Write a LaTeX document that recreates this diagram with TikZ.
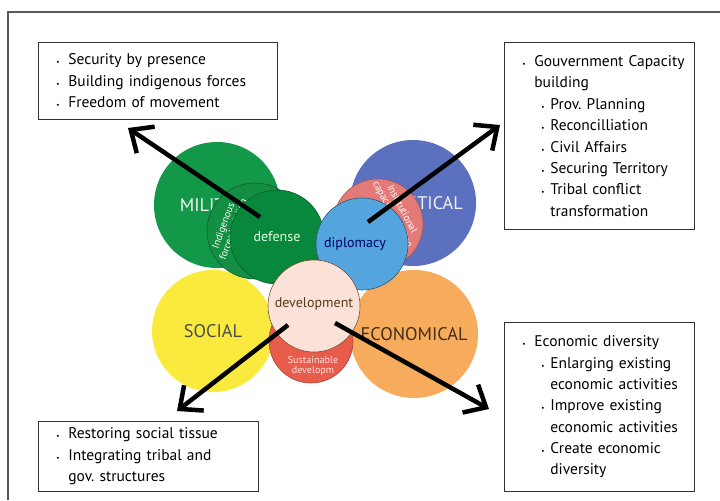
\documentclass[tikz,border=0pt]{standalone}
\usepackage{fontspec}
\setmainfont{PT Sans}
\usetikzlibrary{positioning}
\usetikzlibrary{arrows.meta}

\definecolor{milGreen}{RGB}{18,152,72}
\definecolor{indGreen}{RGB}{20,142,66}
\definecolor{defGreen}{RGB}{8,136,60}
\definecolor{polBlue}{RGB}{92,112,192}
\definecolor{instRed}{RGB}{228,122,120}
\definecolor{dipBlue}{RGB}{84,164,222}
\definecolor{socYellow}{RGB}{250,234,62}
\definecolor{ecoOrange}{RGB}{246,172,92}
\definecolor{devPink}{RGB}{251,226,216}
\definecolor{sustRed}{RGB}{232,92,76}

% list lines inside the boxes
\newcommand{\itemA}[1]{\mbox{\makebox[8.5pt][l]{\tiny\textbullet}#1}}
\newcommand{\contA}[1]{\mbox{\hspace*{8.5pt}#1}}
\newcommand{\itemB}[1]{\mbox{\hspace*{13.5pt}\makebox[6.4pt][l]{\tiny\textbullet}#1}}
\newcommand{\contB}[1]{\mbox{\hspace*{19.9pt}#1}}

\tikzset{
	blob/.style={circle, inner sep=0pt},
	bigLabel/.style={font=\fontsize{13}{14}\selectfont},
	smallLabel/.style={font=\fontsize{10}{11}\selectfont},
	tinyLabel/.style={font=\fontsize{7.2}{7.6}\selectfont, text=white, align=center, inner sep=0pt},
	listBox/.style={rectangle, draw=black!80, line width=0.6pt, fill=white, anchor=north west, inner xsep=0.45cm, align=left, font=\fontsize{11}{15.2}\selectfont},
	push/.style={line width=3.2pt, -{Straight Barb[length=4.5mm, width=8mm, line width=3.2pt]}}
}

\begin{document}
\frenchspacing
\begin{tikzpicture}[x=0.025cm, y=-0.025cm]
	\useasboundingbox (0,0) rectangle (720,500);

	\node[blob, fill=milGreen, minimum size=3.15cm, bigLabel, text=white!92!gray](milCircle) at (217,205){MILITARY};
	\node[blob, fill=polBlue, minimum size=3.15cm, bigLabel, text=white!88!gray](polCircle) at (413,203){\hspace*{12pt}POLITICAL};
	\node[blob, fill=socYellow, minimum size=3.05cm, bigLabel, text=black!70](socCircle) at (213,331){SOCIAL};
	\node[blob, fill=ecoOrange, minimum size=3.2cm, bigLabel, text=black!65!brown](ecoCircle) at (414,334){ECONOMICAL};

	\node[blob, fill=indGreen, draw=defGreen!70!black, minimum size=2.4cm](indigCircle) at (255,231){};
	\node[tinyLabel, rotate=70](indigText) at (229,228){Indigenous\\forces building};
	\node[blob, fill=defGreen, draw=defGreen!70!black, minimum size=2.35cm, smallLabel, text=white!88!green](defCircle) at (277,237){defense};

	\node[blob, fill=instRed, draw=instRed!70!black, minimum size=2.25cm](instCircle) at (378,224){};
	\node[tinyLabel, rotate=-62](instText) at (397,212){Institutional\\capacity building};
	\node[blob, fill=dipBlue, draw=dipBlue!50!black, minimum size=2.3cm, smallLabel, text=blue!40!black](dipCircle) at (362,244){\hspace*{-10pt}diplomacy};

	\node[blob, fill=sustRed, draw=sustRed!70!black, minimum size=2.1cm](sustCircle) at (311,341){};
	\node[tinyLabel, text=white!90!red](sustText) at (313,366){Sustainable\\developm};
	\node[blob, fill=devPink, draw=black!40!brown, minimum size=2.3cm, smallLabel, text=black!55!brown](devCircle) at (314,306){\raisebox{5pt}{development}};

	\coordinate (defTail) at (260,217);
	\coordinate (defTip) at (128,128);
	\coordinate (dipTail) at (368,222);
	\coordinate (dipTip) at (500,125);
	\coordinate (socTail) at (288,325);
	\coordinate (socTip) at (177,411);
	\coordinate (ecoTail) at (335,323);
	\coordinate (ecoTip) at (489,409);
	\draw[push] (defTail) -- (defTip);
	\draw[push] (dipTail) -- (dipTip);
	\draw[push] (socTail) -- (socTip);
	\draw[push] (ecoTail) -- (ecoTip);

	\node[listBox, text width=5.075cm, minimum height=1.925cm](milBox) at (38,42){\itemA{Security by presence}\\ \itemA{Building indigenous forces}\\ \itemA{Freedom of movement}};
	\node[listBox, text width=3.85cm, minimum height=4.675cm](polBox) at (504,42){\itemA{Gouvernment Capacity}\\ \contA{building}\\ \itemB{Prov. Planning}\\ \itemB{Reconcilliation}\\ \itemB{Civil Affairs}\\ \itemB{Securing Territory}\\ \itemB{Tribal conflict}\\ \contB{transformation}};
	\node[listBox, text width=4.6cm, minimum height=1.75cm](socBox) at (38,421){\itemA{Restoring social tissue}\\ \itemA{Integrating tribal and}\\ \contA{gov. structures}};
	\node[listBox, text width=3.85cm, minimum height=4.225cm](ecoBox) at (504,322){\itemA{Economic diversity}\\ \itemB{Enlarging existing}\\ \contB{economic activities}\\ \itemB{Improve existing}\\ \contB{economic activities}\\ \itemB{Create economic}\\ \contB{diversity}};

	\draw[line width=0.9pt, black!65] (8,500) -- (8,12) -- (720,12);
\end{tikzpicture}
\end{document}
